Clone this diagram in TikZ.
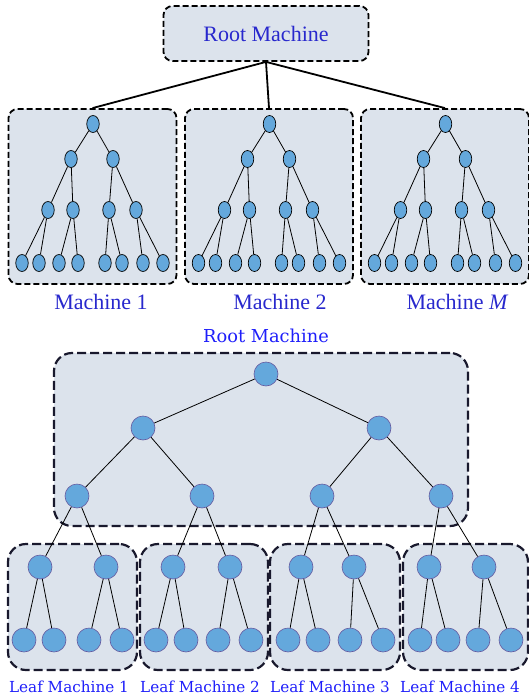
\documentclass[tikz,border=0pt]{standalone}
\usepackage{fontspec}
\setmainfont{Liberation Serif}
\newfontfamily\dejavu{DejaVu Serif}
\usetikzlibrary{shapes.geometric,positioning}
\definecolor{boxgray}{RGB}{220,227,236}
\definecolor{nodeblue}{RGB}{100,168,220}
\definecolor{nodeedge}{RGB}{100,90,160}
\definecolor{topblue}{RGB}{40,40,205}
\definecolor{botblue}{RGB}{30,30,250}
\definecolor{darkline}{RGB}{25,25,45}

\begin{document}
\begin{tikzpicture}[x=1pt, y=-1pt,
    mbox/.style={draw, dash pattern=on 6pt off 3pt, line width=1.8pt, fill=boxgray, rounded corners=9pt, inner sep=0pt},
    bigbox/.style={draw=darkline, dash pattern=on 9pt off 4pt, line width=2.2pt, fill=boxgray, rounded corners=18pt, inner sep=0pt},
    tnode/.style={ellipse, draw, fill=nodeblue, line width=0.7pt, minimum width=12.5pt, minimum height=17pt, inner sep=0pt},
    cnode/.style={circle, draw=nodeedge, fill=nodeblue, line width=0.6pt, minimum size=24pt, inner sep=0pt},
    tedge/.style={line width=0.8pt},
    conn/.style={line width=1.8pt},
    lbl/.style={text=topblue, font=\fontsize{22}{26}\selectfont},
    lbltwo/.style={text=botblue, font=\dejavu\fontsize{17.8}{20}\selectfont},
    lblthree/.style={text=botblue, font=\dejavu\fontsize{15.2}{17}\selectfont}]
    \useasboundingbox (0,0) rectangle (529,696);

    % Root machine (top)
    \node[mbox, minimum width=205pt, minimum height=55pt, lbl] (rootm) at (266,33.5) {Root Machine};

    % Machines 1, 2, M
    \foreach \m/\dx/\lx/\txt in {1/0/101/1, 2/176.5/280/2, 3/352.5/457.5/\textit{M}} {
        \begin{scope}[xshift=\dx pt]
            \node[mbox, minimum width=168pt, minimum height=175pt] (mach\m) at (92.5,196.5) {};
            \node[tnode] (t\m r) at (93,124) {};
            \node[tnode] (t\m a) at (71,159) {};
            \node[tnode] (t\m b) at (113,159) {};
            \node[tnode] (t\m c) at (48,210) {};
            \node[tnode] (t\m d) at (73,210) {};
            \node[tnode] (t\m e) at (109,210) {};
            \node[tnode] (t\m f) at (136,210) {};
            \foreach \i/\x in {1/22, 2/39, 3/59, 4/78, 5/105, 6/122, 7/143, 8/163}
                \node[tnode] (t\m l\i) at (\x,263) {};
            \foreach \p/\c in {r/a, r/b, a/c, a/d, b/e, b/f, c/l1, c/l2, d/l3, d/l4, e/l5, e/l6, f/l7, f/l8}
                \draw[tedge] (t\m\p) -- (t\m\c);
        \end{scope}
        \node[lbl] (mlab\m) at (\lx,302) {Machine \txt};
        \draw[conn] (rootm.south) -- (mach\m.north);
    }

    % Root machine (bottom)
    \node[lbltwo] (rootlab) at (266,336) {Root Machine};
    \node[bigbox, minimum width=414pt, minimum height=173pt] (rootbox) at (261,439.5) {};
    \node[cnode] (n0) at (266,374) {};
    \node[cnode] (n1) at (143,428) {};
    \node[cnode] (n2) at (379,428) {};
    \node[cnode] (n3) at (77,496) {};
    \node[cnode] (n4) at (202,496) {};
    \node[cnode] (n5) at (322,496) {};
    \node[cnode] (n6) at (441,496) {};
    \foreach \p/\c in {n0/n1, n0/n2, n1/n3, n1/n4, n2/n5, n2/n6}
        \draw[tedge] (\p) -- (\c);

    % Leaf machines
    \foreach \k/\up/\cx/\w/\lx/\xa/\xb/\la/\lb/\lc/\ld in {
        1/n3/72.5/129/69/40/106/24/54/89/122,
        2/n4/204/128/200/173/230/156/186/218/251,
        3/n5/335/130/330/301/354/288/318/350/383,
        4/n6/465.5/125/460/429/484/420/448/478/511} {
        \node[bigbox, minimum width=\w pt, minimum height=126pt] (lm\k) at (\cx,607) {};
        \node[cnode] (p\k a) at (\xa,567) {};
        \node[cnode] (p\k b) at (\xb,567) {};
        \node[cnode] (q\k 1) at (\la,640) {};
        \node[cnode] (q\k 2) at (\lb,640) {};
        \node[cnode] (q\k 3) at (\lc,640) {};
        \node[cnode] (q\k 4) at (\ld,640) {};
        \draw[tedge] (\up) -- (p\k a);
        \draw[tedge] (\up) -- (p\k b);
        \draw[tedge] (p\k a) -- (q\k 1);
        \draw[tedge] (p\k a) -- (q\k 2);
        \draw[tedge] (p\k b) -- (q\k 3);
        \draw[tedge] (p\k b) -- (q\k 4);
        \node[lblthree] (llab\k) at (\lx,687) {Leaf Machine \k};
    }
\end{tikzpicture}
\end{document}
